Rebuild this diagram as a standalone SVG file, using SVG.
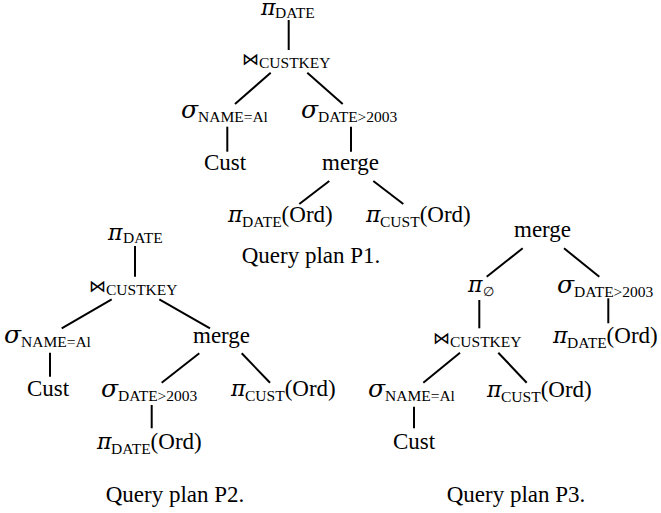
<svg xmlns="http://www.w3.org/2000/svg" width="661" height="513" viewBox="0 0 661 513">
<style>
text{font-family:"Liberation Serif","Times New Roman",serif;font-size:23px;fill:#000}
.g{font-family:"DejaVu Serif",serif;font-style:italic;font-size:22px}
.sg{font-family:"DejaVu Serif",serif;font-style:italic;font-size:25px}
.s{font-size:15.5px}
.bt{font-family:"DejaVu Sans","DejaVu Serif",sans-serif;font-size:17px}
.e{font-family:"DejaVu Serif","Liberation Serif",serif;font-size:13px}
#edges line{stroke:#000;stroke-width:2;stroke-linecap:butt}
</style>
<rect width="661" height="513" fill="#fff"/>
<g id="edges">
<line x1="288.7" y1="20" x2="288.7" y2="50"/>
<line x1="270.7" y1="72.7" x2="235" y2="104"/>
<line x1="307.3" y1="72.7" x2="342.7" y2="104"/>
<line x1="227.3" y1="126.7" x2="227.3" y2="151.7"/>
<line x1="351" y1="126.7" x2="351" y2="151.7"/>
<line x1="329.3" y1="181" x2="299.3" y2="204"/>
<line x1="373.3" y1="181" x2="403.3" y2="204"/>
<line x1="135" y1="246" x2="135" y2="276.7"/>
<line x1="111.7" y1="299.3" x2="61.7" y2="328.3"/>
<line x1="159.3" y1="299.3" x2="210" y2="328.3"/>
<line x1="50" y1="352.7" x2="50" y2="376.7"/>
<line x1="199.3" y1="353.3" x2="161.7" y2="382.7"/>
<line x1="241.7" y1="353.3" x2="270" y2="382.7"/>
<line x1="151.7" y1="405" x2="151.7" y2="428.3"/>
<line x1="522.7" y1="248.3" x2="486.7" y2="276.7"/>
<line x1="564" y1="248.3" x2="599.3" y2="276.7"/>
<line x1="479.3" y1="300" x2="479.3" y2="328.3"/>
<line x1="608.3" y1="298.3" x2="608.3" y2="323.3"/>
<line x1="460" y1="352.7" x2="423.3" y2="382.7"/>
<line x1="498.3" y1="352.7" x2="526.7" y2="382.7"/>
<line x1="414" y1="406.7" x2="414" y2="428.3"/>
</g>
<!-- Plan P1 -->
<g id="p1-proj"><text x="261" y="14.5"><tspan class="g">π</tspan><tspan class="s" x="275" dy="3">DATE</tspan></text></g>
<g id="p1-join"><text y="68"><tspan class="bt" x="242" dy="-3">⋈</tspan><tspan class="s" x="259" dy="3">CUSTKEY</tspan></text></g>
<g id="p1-selname"><text x="181" y="118"><tspan class="sg">σ</tspan><tspan class="s" x="198" dy="4">NAME=Al</tspan></text></g>
<g id="p1-seldate"><text x="301" y="118"><tspan class="sg">σ</tspan><tspan class="s" x="318" dy="4">DATE&gt;2003</tspan></text></g>
<g id="p1-cust"><text x="204" y="170">Cust</text></g>
<g id="p1-merge"><text x="322" y="170">merge</text></g>
<g id="p1-pidate"><text x="228" y="222"><tspan class="g">π</tspan><tspan class="s" x="242" dy="4.5">DATE</tspan><tspan dy="-4.5">(Ord)</tspan></text></g>
<g id="p1-picust"><text x="366" y="222"><tspan class="g">π</tspan><tspan class="s" x="380" dy="4.5">CUST</tspan><tspan dy="-4.5">(Ord)</tspan></text></g>
<g id="p1-caption"><text x="311" y="263" text-anchor="middle">Query plan P1.</text></g>
<!-- Plan P2 -->
<g id="p2-proj"><text x="108" y="240"><tspan class="g">π</tspan><tspan class="s" x="123" dy="3">DATE</tspan></text></g>
<g id="p2-join"><text y="295"><tspan class="bt" x="89" dy="-3">⋈</tspan><tspan class="s" x="106" dy="3">CUSTKEY</tspan></text></g>
<g id="p2-selname"><text x="4" y="343"><tspan class="sg">σ</tspan><tspan class="s" x="21" dy="4">NAME=Al</tspan></text></g>
<g id="p2-merge"><text x="193" y="343">merge</text></g>
<g id="p2-cust"><text x="27" y="396">Cust</text></g>
<g id="p2-seldate"><text x="101" y="397"><tspan class="sg">σ</tspan><tspan class="s" x="118" dy="4">DATE&gt;2003</tspan></text></g>
<g id="p2-picust"><text x="231" y="396"><tspan class="g">π</tspan><tspan class="s" x="245" dy="4.5">CUST</tspan><tspan dy="-4.5">(Ord)</tspan></text></g>
<g id="p2-pidate"><text x="97" y="449"><tspan class="g">π</tspan><tspan class="s" x="111" dy="4.5">DATE</tspan><tspan dy="-4.5">(Ord)</tspan></text></g>
<g id="p2-caption"><text x="175" y="502" text-anchor="middle">Query plan P2.</text></g>
<!-- Plan P3 -->
<g id="p3-merge"><text x="514" y="237">merge</text></g>
<g id="p3-proj"><text x="468" y="292"><tspan class="g">π</tspan><tspan class="e" x="483" dy="3.5">∅</tspan></text></g>
<g id="p3-seldate"><text x="557" y="293"><tspan class="sg">σ</tspan><tspan class="s" x="574" dy="4">DATE&gt;2003</tspan></text></g>
<g id="p3-join"><text y="347"><tspan class="bt" x="433" dy="-3">⋈</tspan><tspan class="s" x="450" dy="3">CUSTKEY</tspan></text></g>
<g id="p3-pidate"><text x="553" y="343"><tspan class="g">π</tspan><tspan class="s" x="567" dy="4.5">DATE</tspan><tspan dy="-4.5">(Ord)</tspan></text></g>
<g id="p3-selname"><text x="368" y="397"><tspan class="sg">σ</tspan><tspan class="s" x="385" dy="4">NAME=Al</tspan></text></g>
<g id="p3-picust"><text x="487" y="397"><tspan class="g">π</tspan><tspan class="s" x="501" dy="4.5">CUST</tspan><tspan dy="-4.5">(Ord)</tspan></text></g>
<g id="p3-cust"><text x="393" y="449">Cust</text></g>
<g id="p3-caption"><text x="516" y="502" text-anchor="middle">Query plan P3.</text></g>
</svg>
